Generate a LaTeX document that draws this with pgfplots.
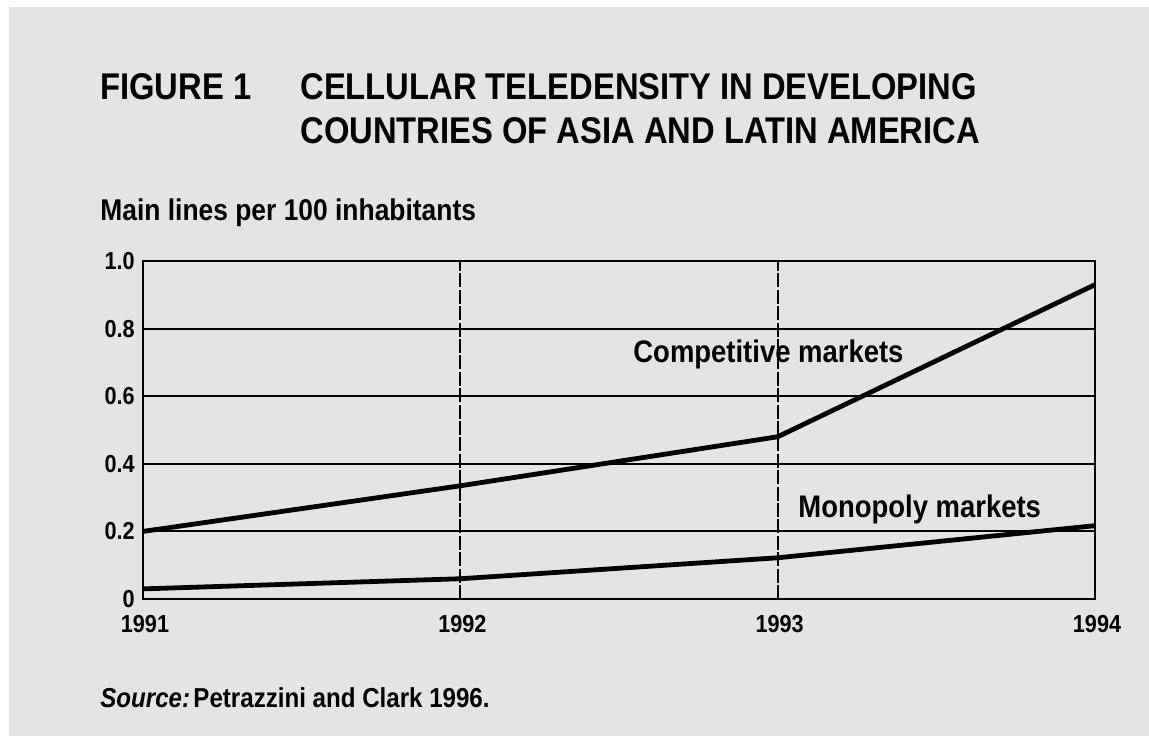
\documentclass[border=0pt]{standalone}
\usepackage{fontspec}
\setmainfont{Liberation Sans}[FakeStretch=0.88]
\usepackage{pgfplots}
\pgfplotsset{compat=1.18}
\definecolor{paper}{RGB}{228,228,228}

\begin{document}
\begin{tikzpicture}
% page: 1149 x 736 px, 1pt = 2px, origin at top left
\fill[white] (0,0) rectangle (574.5pt,-368pt);
\fill[paper] (4.5pt,-3.5pt) rectangle (574.5pt,-368pt);

\begin{axis}[
  at={(71.5pt,-299.5pt)}, anchor=south west,
  scale only axis, width=476pt, height=169pt,
  xmin=1991, xmax=1994, ymin=0, ymax=1,
  xtick={1991,1992,1993,1994},
  xticklabels={1991,1992,1993,1994},
  ytick={0,0.2,0.4,0.6,0.8,1},
  yticklabels={0,0.2,0.4,0.6,0.8,1.0},
  major tick length=0pt,
  /pgf/number format/assume math mode=true,
  ticklabel style={font=\fontsize{12.3}{13}\selectfont\bfseries, inner sep=0pt},
  yticklabel style={xshift=-4pt},
  xticklabel style={yshift=-8pt, xshift=1pt},
  axis line style={line width=1pt},
  ymajorgrids, xmajorgrids,
  y grid style={black, line width=1pt},
  x grid style={black, line width=1pt, dash pattern=on 7pt off 1.2pt},
  clip=false,
]
  \addplot[black, line width=2.4pt, line join=round] coordinates {
    (1991,0.200) (1992,0.335) (1993,0.480) (1994,0.930)};
  \addplot[black, line width=2.4pt, line join=round] coordinates {
    (1991,0.030) (1992,0.060) (1993,0.122) (1994,0.217)};
\end{axis}

\begin{scope}[every node/.style={inner sep=0pt, anchor=base west}]
  \node[font=\fontsize{18.6}{20}\selectfont\bfseries] at (50pt,-49.5pt) {FIGURE 1};
  \node[font=\fontsize{18.6}{20}\selectfont\bfseries] at (150pt,-49.5pt) {CELLULAR TELEDENSITY IN DEVELOPING};
  \node[font=\fontsize{18.6}{20}\selectfont\bfseries] at (150pt,-71.5pt) {COUNTRIES OF ASIA AND LATIN AMERICA};
  \node[font=\fontsize{15}{16}\selectfont\bfseries] at (50pt,-110pt) {Main lines per 100 inhabitants};
  \node[font=\fontsize{15.6}{16}\selectfont\bfseries] at (316.5pt,-181pt) {Competitive markets};
  \node[font=\fontsize{15.6}{16}\selectfont\bfseries] at (399pt,-258.5pt) {Monopoly markets};
  \node[font=\fontsize{13.7}{15}\selectfont\bfseries] at (50pt,-353.5pt) {\textit{Source:}\hspace{0.12em}Petrazzini and Clark 1996.};
\end{scope}
\end{tikzpicture}
\end{document}
